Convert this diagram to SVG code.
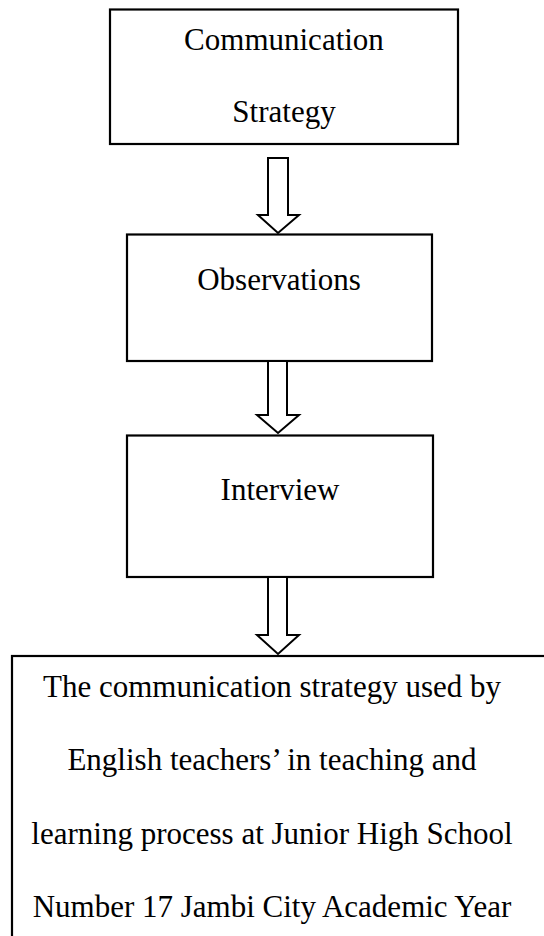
<svg xmlns="http://www.w3.org/2000/svg" width="544" height="936" viewBox="0 0 544 936">
<style>
.box{fill:#fff;stroke:#000;stroke-width:2.2}
.arr{fill:#fff;stroke:#000;stroke-width:2;stroke-linejoin:miter}
text{font-family:"Liberation Serif","Times New Roman",serif;font-size:31px;fill:#000;text-anchor:middle}
</style>
<rect width="544" height="936" fill="#fff"/>
<g id="node-strategy">
<rect class="box" x="110" y="9.5" width="348" height="134.5"/>
<text x="284" y="50">Communication</text>
<text x="284" y="122">Strategy</text>
</g>
<g id="node-observations">
<rect class="box" x="127" y="234.5" width="305" height="126.5"/>
<text x="279" y="290">Observations</text>
</g>
<g id="node-interview">
<rect class="box" x="127" y="435.5" width="306" height="141.5"/>
<text x="280" y="500">Interview</text>
</g>
<g id="node-result">
<rect class="box" x="12" y="656" width="560" height="300"/>
<text x="272" y="697">The communication strategy used by</text>
<text x="272" y="770">English teachers’ in teaching and</text>
<text x="272" y="844">learning process at Junior High School</text>
<text x="272" y="917">Number 17 Jambi City Academic Year</text>
</g>
<g id="connectors">
<path class="arr" d="M268,158 H288 V215 H299 L278,233 L258,215 H268 Z"/>
<path class="arr" d="M268,361 H287 V415 H299 L278,433 L257,415 H268 Z"/>
<path class="arr" d="M268,577 H287 V635 H299 L278,654 L257,635 H268 Z"/>
</g>
</svg>
